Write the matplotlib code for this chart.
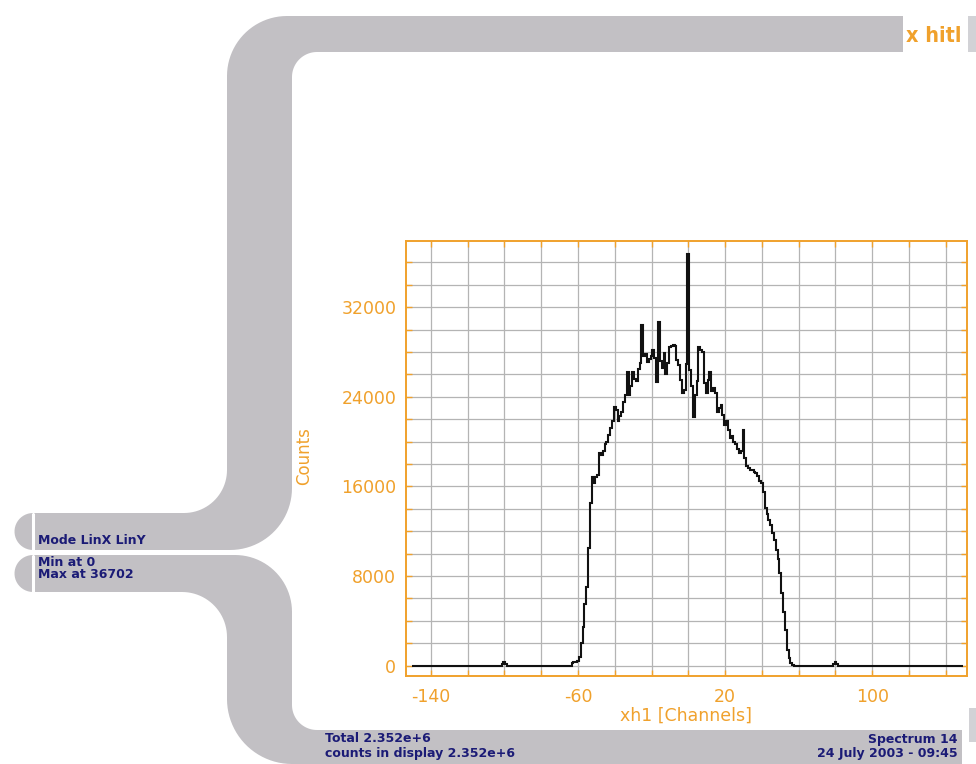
import numpy as np
import matplotlib
matplotlib.use("Agg")
import matplotlib.pyplot as plt
from matplotlib.patches import Polygon

# ---- spectrum data -------------------------------------------------------
first_channel = -150
last_channel = 149

# counts of the central block, channels -64 .. 58
peak_start = -64
peak_counts = [
    0, 250, 300, 300, 400, 800, 2000, 3500, 5500, 7000,          # -64 .. -55
    10500, 14500, 16800, 16300, 16800, 17000, 19000, 18800, 19200, 19800,  # -54 .. -45
    20000, 20600, 21200, 21800, 23100, 22800, 21800, 22300, 22600, 23500,  # -44 .. -35
    24200, 26200, 24200, 25000, 26200, 25600, 25400, 26500, 27000, 30400,  # -34 .. -25
    27600, 27800, 27100, 27400, 27600, 28200, 27500, 25300, 30700, 27200,  # -24 .. -15
    26600, 27900, 26000, 27000, 28400, 28500, 28600, 28500, 27300, 26800,  # -14 .. -5
    25500, 24300, 24600, 26900, 36702, 26400, 25000, 22200, 24200, 25400,  # -4 .. 5
    28400, 28200, 28000, 25200, 24300, 25500, 26200, 24500, 24800, 24300,  # 6 .. 15
    22600, 23000, 23300, 22400, 21500, 21800, 21000, 20300, 20500, 20000,  # 16 .. 25
    19800, 19300, 19000, 19200, 21000, 18500, 17800, 17600, 17500, 17500,  # 26 .. 35
    17300, 17200, 16900, 16500, 16300, 15500, 14100, 13500, 13000, 12600,  # 36 .. 45
    11800, 11200, 10300, 9500, 8300, 6500, 4800, 3200, 1400, 700,          # 46 .. 55
    270, 100, 0,                                                            # 56 .. 58
]

# isolated small peaks outside the main block
side_channels = [-101, -100, -99, 79, 80, 81]
side_counts = [150, 300, 150, 150, 300, 150]

x_tick_labels = [-140, -60, 20, 100]
y_tick_labels = [0, 8000, 16000, 24000, 32000]

channels = np.arange(first_channel, last_channel + 1)
counts = np.zeros(channels.size)
counts[peak_start - first_channel: peak_start - first_channel + len(peak_counts)] = peak_counts
for ch, c in zip(side_channels, side_counts):
    counts[ch - first_channel] = c
edges = np.append(channels - 0.5, channels[-1] + 0.5)

# ---- colours / fonts -----------------------------------------------------
ORANGE = "#f0a12c"
NAVY = "#1b1b76"
FRAME = "#c2c0c4"
GRID = "#b4b4b4"
plt.rcParams["font.family"] = ["DejaVu Sans"]
plt.rcParams["axes.unicode_minus"] = False

W, H = 976, 764
fig = plt.figure(figsize=(W / 100, H / 100), dpi=100)
fig.patch.set_facecolor("white")

# ---- decorative frame, drawn in pixel coordinates ------------------------
bg = fig.add_axes([0, 0, 1, 1], zorder=0)
bg.set_xlim(0, W)
bg.set_ylim(H, 0)
bg.axis("off")


def arc(cx, cy, r, a0, a1, n=24):
    a = np.radians(np.linspace(a0, a1, n))
    return list(zip(cx + r * np.cos(a), cy + r * np.sin(a)))


upper = ([(903, 16), (287, 16)] + arc(287, 76, 60, 270, 180) +
         [(227, 470)] + arc(184, 470, 43, 0, 90) +
         [(34, 513), (34, 550), (230, 550)] + arc(230, 488, 62, 90, 0) +
         [(292, 77)] + arc(317, 77, 25, 180, 270) + [(903, 52)])
lower = ([(34, 555), (235, 555)] + arc(235, 612, 57, 270, 360) +
         [(292, 705)] + arc(317, 705, 25, 180, 90) +
         [(962, 730), (962, 764), (292, 764)] + arc(292, 699, 65, 90, 180) +
         [(227, 637)] + arc(182, 637, 45, 0, -90) + [(34, 592)])
for pts in (upper, lower):
    bg.add_patch(Polygon(pts, closed=True, facecolor=FRAME, edgecolor="none"))

# rounded caps at the left of the two info panels
for y0, y1 in ((513, 550), (555, 592)):
    cy, r = (y0 + y1) / 2, (y1 - y0) / 2
    cap = arc(33, cy, r, 90, 270) + [(33, y0)]
    bg.add_patch(Polygon(cap, closed=True, facecolor=FRAME, edgecolor="none"))
    bg.plot([33, 33], [y0, y1], color="white", lw=2.2, solid_capstyle="butt")

# small pieces at the right border
bg.add_patch(Polygon([(968, 16), (976, 16), (976, 52), (968, 52)],
                     facecolor="#d2d2d6", edgecolor="none"))
bg.add_patch(Polygon([(969, 708), (976, 708), (976, 742), (969, 742)],
                     facecolor="#d2d2d6", edgecolor="none"))

# logo and info texts
bg.text(934, 36, "x hitl", color=ORANGE, fontsize=15.5, fontweight="bold",
        fontstretch="condensed", ha="center", va="center")
info = dict(color=NAVY, fontsize=9, fontweight="bold", va="center")
bg.text(38, 541, "Mode LinX LinY", ha="left", **info)
bg.text(38, 563, "Min at 0", ha="left", **info)
bg.text(38, 575, "Max at 36702", ha="left", **info)
bg.text(325, 739, "Total 2.352e+6", ha="left", **info)
bg.text(325, 753, "counts in display 2.352e+6", ha="left", **info)
bg.text(958, 739, "Spectrum 14", ha="right", **info)
bg.text(958, 753, "24 July 2003 - 09:45", ha="right", **info)

# ---- histogram axes ------------------------------------------------------
left, right, top, bottom = 406, 967, 241, 675.7
ax = fig.add_axes([left / W, 1 - bottom / H, (right - left) / W, (bottom - top) / H],
                  zorder=2)
ax.set_facecolor("white")

ax.stairs(counts, edges, color="#111111", lw=1.5, zorder=3)

ax.set_xlim(-153.5, 151.5)
ax.set_ylim(-890, 37900)

xt = np.arange(-140, 151, 20)
yt = np.arange(0, 37001, 2000)
ax.set_xticks(xt)
ax.set_xticklabels([str(v) if v in x_tick_labels else "" for v in xt])
ax.set_yticks(yt)
ax.set_yticklabels([str(v) if v in y_tick_labels else "" for v in yt])
ax.grid(True, color=GRID, lw=0.9)
ax.set_axisbelow(True)

for s in ax.spines.values():
    s.set_color(ORANGE)
    s.set_linewidth(1.4)
ax.tick_params(axis="both", which="both", direction="in", length=4, width=1,
               color=ORANGE, labelcolor=ORANGE, labelsize=12.5,
               top=True, right=True)
ax.tick_params(axis="y", pad=7)
ax.tick_params(axis="x", pad=9)

ax.set_xlabel("xh1 [Channels]", color=ORANGE, fontsize=12.5)
ax.xaxis.set_label_coords(0.5, -(716 - bottom) / (bottom - top))
ax.xaxis.label.set_va("center")
ax.set_ylabel("Counts", color=ORANGE, fontsize=12)
ax.yaxis.set_label_coords((304 - left) / (right - left), (bottom - 456) / (bottom - top))
ax.yaxis.label.set_va("center")

fig.savefig("out.png", dpi=100, facecolor="white")
